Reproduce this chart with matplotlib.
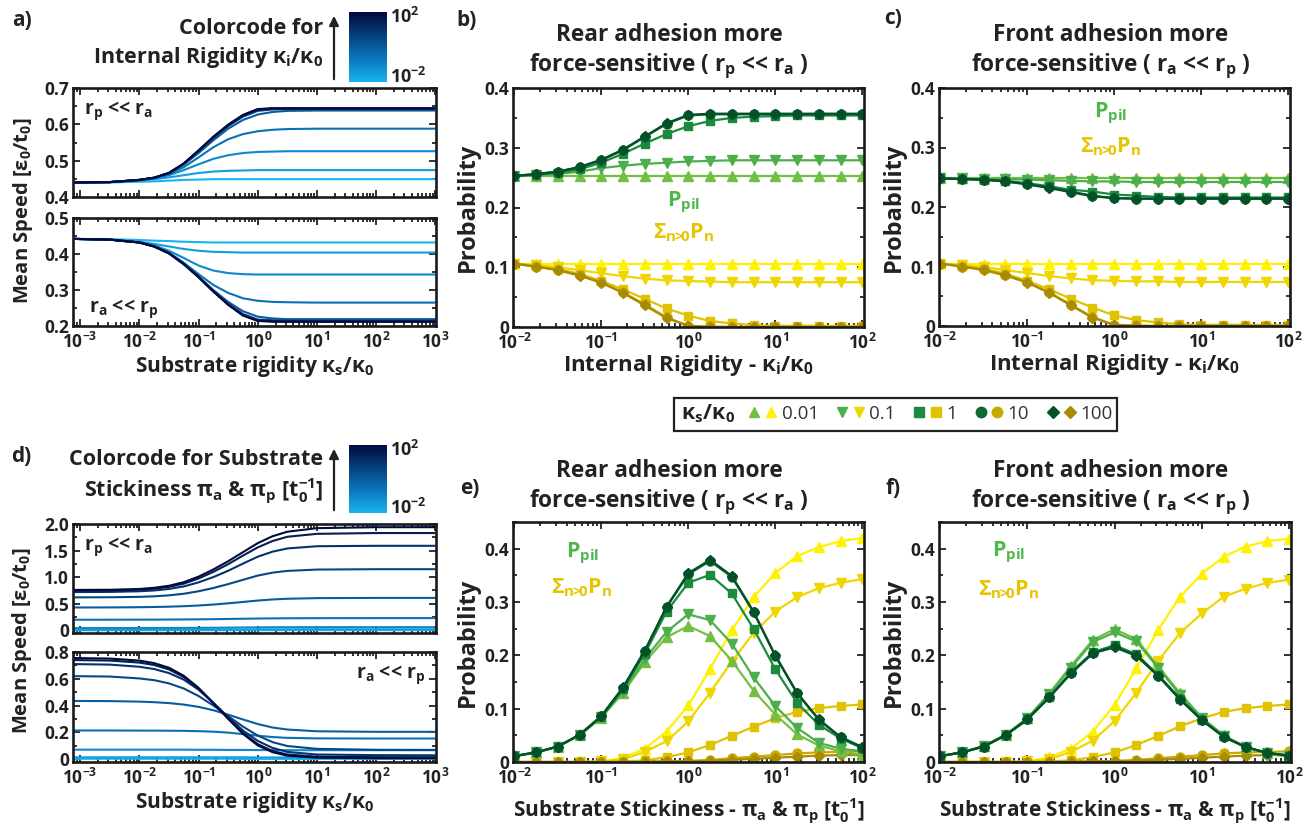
import numpy as np
import matplotlib
matplotlib.use("Agg")
import matplotlib.pyplot as plt
from matplotlib import ticker
from matplotlib.colors import LinearSegmentedColormap
from matplotlib.lines import Line2D
from matplotlib.legend_handler import HandlerTuple
from matplotlib.patches import Rectangle, FancyArrowPatch

# ---- data -------------------------------------------------------------
# panels a, d: log10 of substrate rigidity kappa_s/kappa_0
log_ks = [-3.12, -2.5, -2, -1.75, -1.5, -1.25, -1, -0.75, -0.5, -0.25, 0, 0.25, 0.5, 1, 2, 3]

# a) mean speed, one curve per internal rigidity (light -> dark = 1e-2 -> 1e2)
speed_a_rear = [
    [0.440, 0.440, 0.442, 0.443, 0.445, 0.447, 0.448, 0.449, 0.449, 0.449, 0.449, 0.449, 0.449, 0.449, 0.449, 0.449],
    [0.440, 0.441, 0.445, 0.449, 0.454, 0.460, 0.466, 0.470, 0.472, 0.473, 0.474, 0.474, 0.474, 0.474, 0.474, 0.474],
    [0.440, 0.441, 0.446, 0.451, 0.460, 0.474, 0.490, 0.505, 0.515, 0.521, 0.524, 0.525, 0.526, 0.526, 0.526, 0.526],
    [0.440, 0.441, 0.446, 0.452, 0.463, 0.482, 0.509, 0.537, 0.559, 0.573, 0.581, 0.585, 0.587, 0.588, 0.588, 0.588],
    [0.440, 0.441, 0.447, 0.453, 0.465, 0.489, 0.521, 0.556, 0.588, 0.612, 0.627, 0.634, 0.637, 0.638, 0.638, 0.638],
    [0.440, 0.441, 0.447, 0.453, 0.466, 0.491, 0.525, 0.562, 0.595, 0.621, 0.637, 0.641, 0.642, 0.642, 0.642, 0.642],
    [0.440, 0.441, 0.447, 0.453, 0.466, 0.492, 0.527, 0.564, 0.597, 0.624, 0.640, 0.643, 0.643, 0.643, 0.643, 0.643],
    [0.440, 0.441, 0.447, 0.453, 0.466, 0.492, 0.528, 0.565, 0.598, 0.625, 0.641, 0.644, 0.644, 0.644, 0.644, 0.644],
    [0.440, 0.441, 0.447, 0.453, 0.466, 0.492, 0.528, 0.566, 0.599, 0.626, 0.642, 0.644, 0.644, 0.644, 0.644, 0.644],
]
speed_a_front = [
    [0.442, 0.441, 0.439, 0.437, 0.436, 0.434, 0.433, 0.432, 0.432, 0.432, 0.432, 0.432, 0.432, 0.432, 0.432, 0.432],
    [0.442, 0.440, 0.434, 0.428, 0.421, 0.414, 0.409, 0.406, 0.405, 0.404, 0.404, 0.404, 0.404, 0.404, 0.404, 0.404],
    [0.442, 0.440, 0.433, 0.424, 0.409, 0.389, 0.368, 0.354, 0.347, 0.344, 0.343, 0.343, 0.343, 0.343, 0.343, 0.343],
    [0.442, 0.440, 0.432, 0.422, 0.404, 0.376, 0.344, 0.314, 0.292, 0.277, 0.270, 0.267, 0.266, 0.265, 0.265, 0.265],
    [0.442, 0.440, 0.432, 0.421, 0.403, 0.373, 0.338, 0.300, 0.267, 0.241, 0.226, 0.221, 0.219, 0.219, 0.219, 0.219],
    [0.442, 0.440, 0.432, 0.421, 0.402, 0.372, 0.336, 0.297, 0.262, 0.233, 0.218, 0.216, 0.215, 0.215, 0.215, 0.215],
    [0.442, 0.440, 0.432, 0.421, 0.402, 0.372, 0.336, 0.296, 0.260, 0.231, 0.216, 0.214, 0.213, 0.213, 0.213, 0.213],
    [0.442, 0.440, 0.432, 0.421, 0.402, 0.372, 0.336, 0.296, 0.260, 0.230, 0.215, 0.213, 0.212, 0.212, 0.212, 0.212],
    [0.442, 0.440, 0.432, 0.421, 0.402, 0.372, 0.336, 0.296, 0.259, 0.229, 0.214, 0.212, 0.212, 0.212, 0.212, 0.212],
]

# d) mean speed, one curve per substrate stickiness (light -> dark = 1e-2 -> 1e2)
speed_d_rear = [
    [0.001, 0.001, 0.001, 0.001, 0.001, 0.001, 0.001, 0.002, 0.002, 0.002, 0.002, 0.003, 0.003, 0.003, 0.003, 0.003],
    [0.012, 0.012, 0.012, 0.012, 0.012, 0.013, 0.013, 0.014, 0.015, 0.016, 0.017, 0.018, 0.019, 0.020, 0.020, 0.020],
    [0.044, 0.044, 0.044, 0.045, 0.045, 0.046, 0.047, 0.049, 0.051, 0.054, 0.056, 0.058, 0.059, 0.060, 0.060, 0.060],
    [0.200, 0.200, 0.201, 0.202, 0.203, 0.205, 0.207, 0.210, 0.214, 0.218, 0.222, 0.225, 0.227, 0.229, 0.230, 0.230],
    [0.430, 0.431, 0.435, 0.439, 0.445, 0.454, 0.467, 0.485, 0.508, 0.534, 0.560, 0.581, 0.594, 0.606, 0.610, 0.610],
    [0.620, 0.622, 0.630, 0.640, 0.658, 0.688, 0.735, 0.796, 0.870, 0.950, 1.030, 1.085, 1.118, 1.143, 1.150, 1.150],
    [0.720, 0.723, 0.735, 0.750, 0.778, 0.826, 0.902, 1.002, 1.120, 1.255, 1.385, 1.480, 1.540, 1.582, 1.590, 1.590],
    [0.745, 0.748, 0.763, 0.782, 0.817, 0.878, 0.975, 1.100, 1.245, 1.405, 1.560, 1.680, 1.760, 1.815, 1.830, 1.830],
    [0.760, 0.763, 0.778, 0.800, 0.838, 0.905, 1.010, 1.145, 1.300, 1.470, 1.640, 1.770, 1.855, 1.922, 1.940, 1.940],
]
speed_d_front = [
    [0.004, 0.004, 0.004, 0.004, 0.004, 0.004, 0.004, 0.004, 0.004, 0.003, 0.003, 0.003, 0.003, 0.003, 0.003, 0.003],
    [0.015, 0.015, 0.015, 0.015, 0.015, 0.015, 0.015, 0.015, 0.015, 0.015, 0.014, 0.014, 0.014, 0.014, 0.014, 0.014],
    [0.072, 0.072, 0.072, 0.072, 0.072, 0.072, 0.071, 0.071, 0.070, 0.070, 0.069, 0.069, 0.068, 0.068, 0.068, 0.068],
    [0.215, 0.215, 0.214, 0.214, 0.213, 0.212, 0.210, 0.206, 0.199, 0.188, 0.176, 0.166, 0.160, 0.156, 0.155, 0.155],
    [0.435, 0.434, 0.430, 0.426, 0.419, 0.408, 0.391, 0.366, 0.333, 0.297, 0.263, 0.237, 0.222, 0.209, 0.205, 0.205],
    [0.620, 0.617, 0.603, 0.590, 0.566, 0.528, 0.472, 0.401, 0.322, 0.244, 0.177, 0.128, 0.099, 0.078, 0.071, 0.070],
    [0.710, 0.706, 0.690, 0.673, 0.643, 0.594, 0.519, 0.421, 0.316, 0.215, 0.137, 0.085, 0.055, 0.036, 0.031, 0.030],
    [0.740, 0.736, 0.721, 0.703, 0.670, 0.613, 0.527, 0.418, 0.305, 0.197, 0.113, 0.062, 0.036, 0.020, 0.016, 0.015],
    [0.755, 0.751, 0.736, 0.717, 0.683, 0.623, 0.533, 0.420, 0.302, 0.190, 0.104, 0.053, 0.027, 0.012, 0.008, 0.008],
]

# panels b, c, e, f: log10 of swept parameter
log_p = [-2, -1.75, -1.5, -1.25, -1, -0.75, -0.5, -0.25, 0, 0.25, 0.5, 0.75, 1, 1.25, 1.5, 1.75, 2]
ks_labels = ["0.01", "0.1", "1", "10", "100"]

# b) rear adhesion, vs internal rigidity
b_pil = [
    [0.253, 0.253, 0.253, 0.253, 0.253, 0.253, 0.253, 0.253, 0.253, 0.253, 0.253, 0.253, 0.253, 0.253, 0.253, 0.253, 0.253],
    [0.253, 0.254, 0.256, 0.260, 0.266, 0.270, 0.273, 0.275, 0.277, 0.278, 0.279, 0.279, 0.279, 0.279, 0.279, 0.279, 0.279],
    [0.253, 0.255, 0.258, 0.264, 0.275, 0.290, 0.307, 0.323, 0.336, 0.345, 0.350, 0.352, 0.353, 0.354, 0.354, 0.354, 0.354],
    [0.253, 0.256, 0.260, 0.267, 0.279, 0.296, 0.318, 0.340, 0.354, 0.356, 0.356, 0.356, 0.356, 0.356, 0.356, 0.356, 0.356],
    [0.253, 0.256, 0.260, 0.268, 0.280, 0.297, 0.319, 0.341, 0.355, 0.357, 0.357, 0.357, 0.357, 0.357, 0.357, 0.357, 0.357],
]
b_sum = [
    [0.106, 0.106, 0.106, 0.106, 0.106, 0.106, 0.106, 0.106, 0.106, 0.106, 0.106, 0.106, 0.106, 0.106, 0.106, 0.106, 0.106],
    [0.106, 0.104, 0.100, 0.095, 0.090, 0.085, 0.081, 0.078, 0.077, 0.076, 0.075, 0.075, 0.075, 0.075, 0.075, 0.075, 0.075],
    [0.106, 0.102, 0.097, 0.089, 0.077, 0.063, 0.047, 0.031, 0.019, 0.010, 0.006, 0.003, 0.002, 0.002, 0.002, 0.002, 0.002],
    [0.106, 0.101, 0.096, 0.087, 0.075, 0.058, 0.038, 0.016, 0.002, 0.001, 0.000, 0.000, 0.000, 0.000, 0.000, 0.000, 0.000],
    [0.106, 0.101, 0.095, 0.086, 0.074, 0.057, 0.036, 0.015, 0.002, 0.000, 0.000, 0.000, 0.000, 0.000, 0.000, 0.000, 0.000],
]

# c) front adhesion, vs internal rigidity
c_pil = [
    [0.248, 0.248, 0.248, 0.248, 0.248, 0.248, 0.248, 0.248, 0.248, 0.248, 0.248, 0.248, 0.248, 0.248, 0.248, 0.248, 0.248],
    [0.248, 0.248, 0.247, 0.247, 0.246, 0.245, 0.244, 0.243, 0.243, 0.242, 0.242, 0.242, 0.242, 0.242, 0.242, 0.242, 0.242],
    [0.248, 0.247, 0.246, 0.244, 0.240, 0.235, 0.229, 0.226, 0.221, 0.219, 0.217, 0.216, 0.216, 0.216, 0.216, 0.216, 0.216],
    [0.248, 0.247, 0.246, 0.243, 0.239, 0.233, 0.226, 0.219, 0.215, 0.214, 0.214, 0.214, 0.214, 0.214, 0.214, 0.214, 0.214],
    [0.248, 0.247, 0.246, 0.243, 0.238, 0.232, 0.225, 0.218, 0.215, 0.214, 0.214, 0.214, 0.214, 0.214, 0.214, 0.214, 0.214],
]
c_sum = [
    [0.105, 0.105, 0.105, 0.105, 0.105, 0.105, 0.105, 0.105, 0.105, 0.105, 0.105, 0.105, 0.105, 0.105, 0.105, 0.105, 0.105],
    [0.105, 0.103, 0.099, 0.094, 0.089, 0.084, 0.080, 0.077, 0.076, 0.075, 0.075, 0.074, 0.074, 0.074, 0.074, 0.074, 0.074],
    [0.105, 0.101, 0.096, 0.088, 0.076, 0.062, 0.046, 0.031, 0.018, 0.010, 0.006, 0.003, 0.002, 0.002, 0.002, 0.002, 0.002],
    [0.105, 0.100, 0.095, 0.086, 0.074, 0.057, 0.036, 0.015, 0.002, 0.001, 0.000, 0.000, 0.000, 0.000, 0.000, 0.000, 0.000],
    [0.105, 0.100, 0.094, 0.085, 0.073, 0.056, 0.035, 0.014, 0.002, 0.000, 0.000, 0.000, 0.000, 0.000, 0.000, 0.000, 0.000],
]

# e) rear adhesion, vs substrate stickiness
e_pil = [
    [0.011, 0.018, 0.029, 0.050, 0.083, 0.130, 0.187, 0.234, 0.255, 0.236, 0.190, 0.134, 0.089, 0.052, 0.031, 0.020, 0.013],
    [0.011, 0.018, 0.029, 0.050, 0.084, 0.132, 0.193, 0.244, 0.277, 0.266, 0.222, 0.159, 0.105, 0.064, 0.036, 0.025, 0.020],
    [0.011, 0.018, 0.029, 0.051, 0.085, 0.136, 0.203, 0.282, 0.336, 0.351, 0.316, 0.250, 0.174, 0.111, 0.070, 0.044, 0.026],
    [0.011, 0.018, 0.029, 0.051, 0.086, 0.139, 0.208, 0.290, 0.352, 0.377, 0.347, 0.281, 0.199, 0.129, 0.079, 0.046, 0.027],
    [0.011, 0.018, 0.029, 0.051, 0.086, 0.140, 0.209, 0.291, 0.354, 0.379, 0.349, 0.282, 0.200, 0.130, 0.080, 0.047, 0.028],
]
e_sum = [
    [0.000, 0.000, 0.000, 0.000, 0.001, 0.008, 0.025, 0.057, 0.106, 0.174, 0.247, 0.309, 0.354, 0.386, 0.403, 0.414, 0.420],
    [0.000, 0.000, 0.000, 0.000, 0.001, 0.005, 0.019, 0.039, 0.076, 0.130, 0.188, 0.242, 0.282, 0.309, 0.326, 0.336, 0.343],
    [0.000, 0.000, 0.000, 0.000, 0.000, 0.001, 0.003, 0.009, 0.018, 0.032, 0.049, 0.066, 0.082, 0.094, 0.101, 0.105, 0.108],
    [0.000, 0.000, 0.000, 0.000, 0.000, 0.000, 0.001, 0.001, 0.002, 0.004, 0.007, 0.010, 0.013, 0.016, 0.018, 0.019, 0.020],
    [0.000, 0.000, 0.000, 0.000, 0.000, 0.000, 0.000, 0.001, 0.001, 0.002, 0.004, 0.006, 0.008, 0.010, 0.012, 0.013, 0.013],
]

# f) front adhesion, vs substrate stickiness
f_pil = [
    [0.011, 0.018, 0.030, 0.051, 0.082, 0.128, 0.180, 0.229, 0.249, 0.230, 0.179, 0.129, 0.083, 0.050, 0.028, 0.016, 0.010],
    [0.011, 0.018, 0.030, 0.051, 0.082, 0.127, 0.177, 0.225, 0.243, 0.226, 0.176, 0.126, 0.082, 0.049, 0.028, 0.016, 0.011],
    [0.011, 0.018, 0.029, 0.050, 0.080, 0.122, 0.168, 0.206, 0.219, 0.202, 0.163, 0.119, 0.079, 0.048, 0.028, 0.017, 0.012],
    [0.011, 0.018, 0.029, 0.050, 0.080, 0.121, 0.167, 0.204, 0.217, 0.200, 0.162, 0.118, 0.079, 0.047, 0.028, 0.017, 0.012],
    [0.011, 0.018, 0.029, 0.050, 0.080, 0.121, 0.166, 0.204, 0.215, 0.199, 0.161, 0.117, 0.078, 0.047, 0.028, 0.017, 0.012],
]
f_sum = [
    [0.000, 0.000, 0.000, 0.000, 0.001, 0.009, 0.025, 0.057, 0.107, 0.176, 0.248, 0.310, 0.353, 0.385, 0.404, 0.414, 0.419],
    [0.000, 0.000, 0.000, 0.000, 0.001, 0.005, 0.019, 0.040, 0.077, 0.130, 0.190, 0.242, 0.279, 0.310, 0.325, 0.336, 0.342],
    [0.000, 0.000, 0.000, 0.000, 0.000, 0.001, 0.003, 0.009, 0.018, 0.032, 0.049, 0.067, 0.082, 0.094, 0.101, 0.105, 0.108],
    [0.000, 0.000, 0.000, 0.000, 0.000, 0.000, 0.001, 0.001, 0.002, 0.004, 0.007, 0.010, 0.013, 0.016, 0.018, 0.019, 0.020],
    [0.000, 0.000, 0.000, 0.000, 0.000, 0.000, 0.000, 0.001, 0.001, 0.002, 0.004, 0.006, 0.008, 0.010, 0.012, 0.013, 0.013],
]

# ---- style ------------------------------------------------------------
plt.rcParams["font.family"] = ["Open Sans", "DejaVu Sans"]
plt.rcParams["font.weight"] = "bold"
plt.rcParams["axes.labelweight"] = "bold"
plt.rcParams["mathtext.fontset"] = "custom"
plt.rcParams["mathtext.rm"] = "Open Sans"
plt.rcParams["mathtext.bf"] = "Open Sans:bold"
plt.rcParams["mathtext.it"] = "Open Sans:italic"
plt.rcParams["mathtext.default"] = "regular"
plt.rcParams["text.color"] = "#222222"
plt.rcParams["axes.labelcolor"] = "#222222"

TXT = "#222222"
blues = LinearSegmentedColormap.from_list("speed", ["#19b4f0", "#0a78bf", "#06407f", "#020a3c"])
greens = ["#72bf44", "#4caf4c", "#1b8a3d", "#0b6b32", "#045028"]
yellows = ["#fff200", "#f0d600", "#e0c200", "#c8a900", "#a88b00"]
markers = ["^", "v", "s", "o", "D"]
msizes = [6.5, 6.5, 5.5, 6.5, 5.5]

W, H = 1304, 827
fig = plt.figure(figsize=(W / 100, H / 100), dpi=100)


def box(x0, y0, x1, y1):
    return fig.add_axes([x0 / W, 1 - y1 / H, (x1 - x0) / W, (y1 - y0) / H])


def ylab(v):
    return "0" if v == 0 else f"{v:.1f}"


def style(ax, xlim, ylim, yticks, yminor, xlabels=True):
    ax.set_xscale("log")
    ax.set_xlim(10 ** xlim[0], 10 ** xlim[1])
    ax.set_ylim(*ylim)
    decades = [10.0 ** k for k in range(int(np.ceil(xlim[0])), int(np.floor(xlim[1])) + 1)]
    ax.xaxis.set_major_locator(ticker.FixedLocator(decades))
    ax.xaxis.set_major_formatter(ticker.LogFormatterSciNotation())
    ax.xaxis.set_minor_locator(ticker.LogLocator(base=10, subs=np.arange(2, 10), numticks=20))
    ax.xaxis.set_minor_formatter(ticker.NullFormatter())
    ax.set_yticks(yticks)
    ax.set_yticklabels([ylab(v) for v in yticks])
    ax.yaxis.set_minor_locator(ticker.MultipleLocator(yminor))
    ax.tick_params(which="both", direction="in", top=True, right=True, width=1.3,
                   color="#222222", labelcolor=TXT, labelsize=12.5, pad=3)
    ax.tick_params(which="major", length=5)
    ax.tick_params(which="minor", length=3)
    ax.tick_params(axis="x", pad=4)
    if not xlabels:
        ax.tick_params(labelbottom=False)
    plt.setp(ax.get_xticklabels() + ax.get_yticklabels(), fontweight="bold")
    for s in ax.spines.values():
        s.set_linewidth(1.9)
        s.set_color("#1a1a1a")


def speed_panel(ax, curves):
    x = 10 ** np.array(log_ks)
    n = len(curves)
    for i, ys in enumerate(curves):
        ax.plot(x, ys, color=blues(i / (n - 1)), lw=1.5, solid_capstyle="butt")


def prob_panel(ax, pil, nsum):
    x = 10 ** np.array(log_p)
    for i in range(5):
        ax.plot(x, nsum[i], color=yellows[i], marker=markers[i], ms=msizes[i], lw=1.6)
    for i in range(5):
        ax.plot(x, pil[i], color=greens[i], marker=markers[i], ms=msizes[i], lw=1.6)


def pil_labels(ax, xf, yf1, yf2):
    ax.text(xf, yf1, "P$_{\\mathrm{pil}}$", transform=ax.transAxes, color="#4cb84a",
            fontsize=15.5, ha="center", va="center")
    ax.text(xf, yf2, "Σ$_{\\mathrm{n}\\!\\!>\\!\\!\\mathrm{0}}$P$_{\\mathrm{n}}$", transform=ax.transAxes,
            color="#e6c400", fontsize=15.5, ha="center", va="center")


# ---- a) --------------------------------------------------------------
a1 = box(73, 88, 436, 197)
speed_panel(a1, speed_a_rear)
style(a1, (-3.12, 3.01), (0.4, 0.7), [0.4, 0.5, 0.6, 0.7], 0.05, xlabels=False)
a1.text(0.03, 0.9, "r$_p$ << r$_a$", transform=a1.transAxes, fontsize=14, va="top")

a2 = box(73, 218, 436, 326)
speed_panel(a2, speed_a_front)
style(a2, (-3.12, 3.01), (0.2, 0.5), [0.2, 0.3, 0.4, 0.5], 0.05)
a2.text(0.045, 0.06, "r$_a$ << r$_p$", transform=a2.transAxes, fontsize=14, va="bottom")
a2.set_xlabel("Substrate rigidity κ$_s$/κ$_0$", fontsize=15, labelpad=2)
fig.text(23 / W, 1 - 211 / H, "Mean Speed [ε$_0$/t$_0$]", rotation=90, fontsize=14.5,
         ha="center", va="center")

# ---- d) --------------------------------------------------------------
d1 = box(73, 524, 436, 633)
speed_panel(d1, speed_d_rear)
style(d1, (-3.12, 3.01), (-0.05, 2.0), [0, 0.5, 1.0, 1.5, 2.0], 0.25, xlabels=False)
d1.text(0.03, 0.9, "r$_p$ << r$_a$", transform=d1.transAxes, fontsize=14, va="top")

d2 = box(73, 652, 436, 762)
speed_panel(d2, speed_d_front)
style(d2, (-3.12, 3.01), (-0.02, 0.8), [0, 0.2, 0.4, 0.6, 0.8], 0.1)
d2.text(0.97, 0.9, "r$_a$ << r$_p$", transform=d2.transAxes, fontsize=14, va="top", ha="right")
d2.set_xlabel("Substrate rigidity κ$_s$/κ$_0$", fontsize=15, labelpad=2)
fig.text(22 / W, 1 - 641 / H, "Mean Speed [ε$_0$/t$_0$]", rotation=90, fontsize=14.5,
         ha="center", va="center")

# ---- b, c, e, f ---------------------------------------------------
b = box(513, 88, 864, 327)
prob_panel(b, b_pil, b_sum)
style(b, (-2.015, 2.02), (0, 0.4), [0, 0.1, 0.2, 0.3, 0.4], 0.05)
b.set_xlabel("Internal Rigidity - κ$_i$/κ$_0$", fontsize=16, labelpad=0)
b.set_ylabel("Probability", fontsize=17, labelpad=3)
pil_labels(b, 0.487, 0.52, 0.393)

c = box(939, 88, 1290, 326)
prob_panel(c, c_pil, c_sum)
style(c, (-2.012, 2.02), (0, 0.4), [0, 0.1, 0.2, 0.3, 0.4], 0.05)
c.set_xlabel("Internal Rigidity - κ$_i$/κ$_0$", fontsize=16, labelpad=0)
c.set_ylabel("Probability", fontsize=17, labelpad=3)
pil_labels(c, 0.49, 0.895, 0.752)

e = box(513, 522, 864, 762)
prob_panel(e, e_pil, e_sum)
style(e, (-2.015, 2.02), (0, 0.45), [0, 0.1, 0.2, 0.3, 0.4], 0.05)
e.set_xlabel("Substrate Stickiness - π$_a$ & π$_p$ [t$_0^{-1}$]", fontsize=15, labelpad=6)
e.set_ylabel("Probability", fontsize=17, labelpad=3)
pil_labels(e, 0.197, 0.871, 0.725)

f = box(939, 522, 1291, 762)
prob_panel(f, f_pil, f_sum)
style(f, (-2.012, 2.02), (0, 0.45), [0, 0.1, 0.2, 0.3, 0.4], 0.05)
f.set_xlabel("Substrate Stickiness - π$_a$ & π$_p$ [t$_0^{-1}$]", fontsize=15, labelpad=6)
f.set_ylabel("Probability", fontsize=17, labelpad=3)
pil_labels(f, 0.199, 0.875, 0.717)

# ---- titles & panel letters ---------------------------------------
for xc, yc, side in [(669, 52, "( r$_p$ << r$_a$ )"), (1111, 52, "( r$_a$ << r$_p$ )"),
                     (669, 488, "( r$_p$ << r$_a$ )"), (1111, 488, "( r$_a$ << r$_p$ )")]:
    head = "Rear" if "r$_p$ <<" in side else "Front"
    fig.text(xc / W, 1 - yc / H, f"{head} adhesion more\nforce-sensitive {side}",
             fontsize=16.3, ha="center", va="center", linespacing=1.2)

for lab, x, y in [("a)", 22, 20), ("b)", 467, 20), ("c)", 893, 18),
                  ("d)", 21, 456), ("e)", 470, 488), ("f)", 893, 488)]:
    fig.text(x / W, 1 - y / H, lab, fontsize=15, ha="center", va="center")

# ---- colour-code keys ---------------------------------------------
grad = np.linspace(0, 1, 256)[:, None]
for (y0, y1, caption, ty) in [(12, 82, "Colorcode for\nInternal Rigidity κ$_i$/κ$_0$", 44),
                               (445, 513, "Colorcode for Substrate\nStickiness π$_a$ & π$_p$ [t$_0^{-1}$]", 477)]:
    cax = box(349, y0, 387, y1)
    cax.imshow(grad, aspect="auto", cmap=blues, origin="lower")
    cax.axis("off")
    fig.text(390 / W, 1 - (y0 + 5) / H, "10$^2$", fontsize=13, va="center")
    fig.text(390 / W, 1 - (y1 - 5) / H, "10$^{-2}$", fontsize=13, va="center")
    fig.patches.append(FancyArrowPatch((334 / W, 1 - y1 / H), (334 / W, 1 - (y0 + 1) / H),
                                       transform=fig.transFigure, arrowstyle="-|>",
                                       mutation_scale=14, lw=1.6, color="#222222"))
    fig.text(323 / W, 1 - ty / H, caption, fontsize=15.5, ha="right", va="center",
             multialignment="right", linespacing=1.3)

# ---- legend -------------------------------------------------------
handles = [(Line2D([], [], ls="none", marker=markers[i], ms=msizes[i] + 1, color=greens[i]),
            Line2D([], [], ls="none", marker=markers[i], ms=msizes[i] + 1, color=yellows[i]))
           for i in range(5)]
fig.patches.append(Rectangle((674 / W, 1 - 431 / H), (1117 - 674) / W, 33 / H,
                             transform=fig.transFigure, fill=False, lw=1.6, ec="#222222"))
fig.text(708 / W, 1 - 414 / H, "κ$_s$/κ$_0$", fontsize=15.5, ha="center", va="center")
fig.legend(handles, ks_labels, handler_map={tuple: HandlerTuple(ndivide=None, pad=0.2)},
           ncol=5, loc="center", bbox_to_anchor=(930 / W, 1 - 414 / H), frameon=False,
           prop={"weight": "normal", "size": 13.5}, labelcolor="#333333",
           handlelength=1.6, handletextpad=0.2, columnspacing=0.9, borderpad=0.1)

fig.savefig("out.png", dpi=100)
